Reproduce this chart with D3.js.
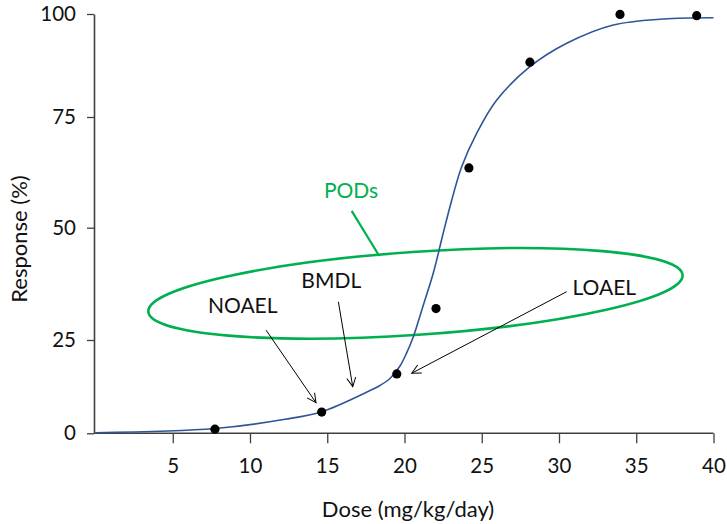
<!DOCTYPE html>
<html>
<head>
<meta charset="utf-8">
<script src="https://cdn.jsdelivr.net/npm/d3@7"></script>
<style>
  html, body { margin: 0; padding: 0; background: #fff; }
  svg { display: block; font-family: Lato, "Open Sans", sans-serif; }
</style>
</head>
<body>
<svg id="chart" width="727" height="524"></svg>
<script>
// ---- data ----
const xTicks = [5, 10, 15, 20, 25, 30, 35, 40];
const yTicks = [0, 25, 50, 75, 100];
const xTitle = "Dose (mg/kg/day)";
const yTitle = "Response (%)";

// observed responses
const doseValues = [7.73, 14.64, 19.50, 22.04, 24.17, 28.12, 33.95, 38.91];
const responseValues = [1.1, 5.7, 15.9, 32.0, 63.5, 88.3, 99.9, 99.6];

// fitted dose-response curve
const curveDose = [0, 7.73, 12.27, 14.64, 17.57, 18.41, 19.06, 19.71, 20.14, 20.57, 21.22, 21.86, 22.46, 23.06, 23.70, 24.67, 25.97, 28.12, 30.50, 33.51, 36.75, 40];
const curveResp = [0.16, 1.29, 3.75, 5.79, 11.07, 12.82, 14.69, 18.04, 21.53, 25.73, 32.80, 39.86, 48.15, 56.25, 63.77, 71.31, 79.13, 87.21, 92.89, 97.33, 98.79, 99.1];

// annotations (data coordinates)
const labelNames = ["NOAEL", "BMDL", "LOAEL"];
const labelDose = [9.53, 15.26, 32.93];
const labelResp = [30.95, 36.5, 35.0];
const arrowFromDose = [11.04, 15.72, 30.5];
const arrowFromResp = [27.2, 33.5, 35.76];
const arrowToDose = [14.27, 16.65, 20.47];
const arrowToResp = [8.2, 12.5, 16.1];

const podLabel = "PODs";
const podLabelDose = 16.54, podLabelResp = 56.6;
const podLineDose = [16.58, 18.37];
const podLineResp = [53.8, 43.7];
const ellipseCenterDose = 20.71, ellipseCenterResp = 35.38;
const ellipseHalfDose = 17.33, ellipseHalfResp = 9.24, ellipseAngle = -3.93;

// ---- scales ----
const svg = d3.select("#chart");
const x = d3.scaleLinear().domain([0, 40]).range([95.5, 713.5]);
const y = d3.scaleLinear().domain([0, 25, 50, 75, 100]).range([433.3, 340, 227.7, 117, 14]);

const axisColor = "#404040";

// x axis
const gx = svg.append("g")
  .attr("transform", `translate(0,${y(0)})`)
  .call(d3.axisBottom(x).tickValues(xTicks).tickSize(10).tickPadding(15).tickSizeOuter(0));
gx.select(".domain").attr("d", `M94,0H${x(40)}`);

// y axis
const gy = svg.append("g")
  .attr("transform", `translate(94,0)`)
  .call(d3.axisLeft(y).tickValues(yTicks).tickSize(7).tickPadding(11).tickSizeOuter(0));

[gx, gy].forEach(g => {
  g.selectAll(".domain").attr("stroke", axisColor).attr("stroke-width", 1.6);
  g.selectAll(".tick line").attr("stroke", axisColor).attr("stroke-width", 1.3);
  g.selectAll(".tick text").attr("fill", "#111").attr("font-size", 20.5)
    .attr("font-family", "Lato, 'Open Sans', sans-serif");
});

// axis titles
svg.append("text").attr("x", 408).attr("y", 517).attr("text-anchor", "middle")
  .attr("font-size", 22).attr("fill", "#111").text(xTitle);
svg.append("text").attr("transform", "translate(27,239) rotate(-90)")
  .attr("text-anchor", "middle").attr("font-size", 22).attr("fill", "#111").text(yTitle);

// ellipse
const cx = x(ellipseCenterDose), cy = y(ellipseCenterResp);
svg.append("ellipse")
  .attr("cx", cx).attr("cy", cy)
  .attr("rx", x(ellipseCenterDose + ellipseHalfDose) - cx)
  .attr("ry", y(ellipseCenterResp - ellipseHalfResp) - cy)
  .attr("transform", `rotate(${ellipseAngle},${cx},${cy})`)
  .attr("fill", "none").attr("stroke", "#00B050").attr("stroke-width", 2.6);

// PODs pointer
svg.append("line")
  .attr("x1", x(podLineDose[0])).attr("y1", y(podLineResp[0]))
  .attr("x2", x(podLineDose[1])).attr("y2", y(podLineResp[1]))
  .attr("stroke", "#00B050").attr("stroke-width", 2.2);
svg.append("text").attr("x", x(podLabelDose)).attr("y", y(podLabelResp))
  .attr("text-anchor", "middle").attr("font-size", 21).attr("fill", "#00B050").text(podLabel);

// fitted curve
const pts = curveDose.map((d, i) => [d, curveResp[i]]);
svg.append("path").datum(pts)
  .attr("d", d3.line().x(d => x(d[0])).y(d => y(d[1])).curve(d3.curveCatmullRom.alpha(0.5)))
  .attr("fill", "none").attr("stroke", "#2F5597").attr("stroke-width", 1.6);

// points
svg.append("g").selectAll("circle")
  .data(doseValues.map((d, i) => [d, responseValues[i]]))
  .join("circle")
  .attr("cx", d => x(d[0])).attr("cy", d => y(d[1])).attr("r", 4.6).attr("fill", "#000");

// arrows
svg.append("defs").append("marker")
  .attr("id", "arrow").attr("markerUnits", "userSpaceOnUse")
  .attr("viewBox", "-10 -6 12 12").attr("refX", 0).attr("refY", 0)
  .attr("markerWidth", 12).attr("markerHeight", 12).attr("orient", "auto")
  .append("path").attr("d", "M-9,-4.5L0,0L-9,4.5")
  .attr("fill", "none").attr("stroke", "#000").attr("stroke-width", 1);

labelNames.forEach((name, i) => {
  svg.append("line")
    .attr("x1", x(arrowFromDose[i])).attr("y1", y(arrowFromResp[i]))
    .attr("x2", x(arrowToDose[i])).attr("y2", y(arrowToResp[i]))
    .attr("stroke", "#000").attr("stroke-width", 1)
    .attr("marker-end", "url(#arrow)");
  svg.append("text").attr("x", x(labelDose[i])).attr("y", y(labelResp[i]))
    .attr("text-anchor", "middle").attr("font-size", 21).attr("fill", "#111").text(name);
});
</script>
</body>
</html>
